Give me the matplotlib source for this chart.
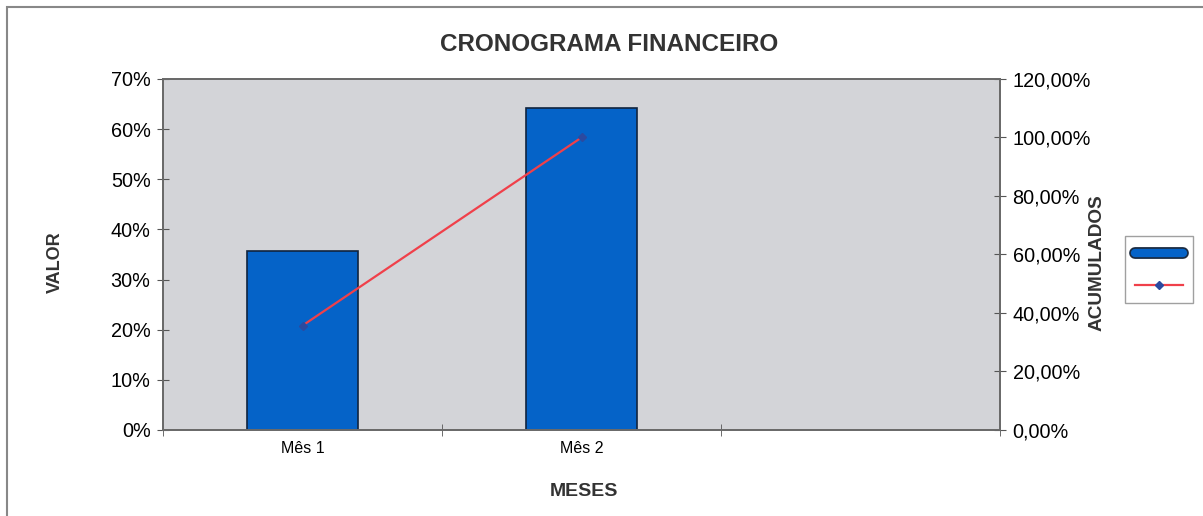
import numpy as np
import matplotlib.pyplot as plt
import matplotlib.patheffects as pe
from matplotlib.patches import Rectangle
from matplotlib.ticker import FuncFormatter

# %%
meses = ['Mês 1', 'Mês 2', '']
valor = [35.7, 64.3]        # %
acumulado = [35.7, 100.0]   # %

plt.rcParams['font.family'] = ['Liberation Sans', 'DejaVu Sans']

fig = plt.figure(figsize=(12.03, 5.16), dpi=100)
ax = fig.add_axes([0.1355, 0.1667, 0.6958, 0.6802])
ax.set_facecolor('#d3d4d8')

x = np.arange(len(valor))
ax.bar(x, valor, width=0.4, color='#0563c8', edgecolor='#10243f', linewidth=1.2, zorder=2)
ax.set_xlim(-0.5, 2.5)
ax.set_ylim(0, 70)
ax.set_yticks(np.arange(0, 71, 10))
ax.yaxis.set_major_formatter(FuncFormatter(lambda v, p: f'{v:.0f}%'))
ax.set_xticks(np.arange(len(meses)))
ax.set_xticklabels(meses, fontsize=11.5)
ax.set_xticks(np.arange(-0.5, 2.6, 1), minor=True)
ax.tick_params(axis='x', which='major', length=0, pad=8)
ax.tick_params(axis='x', which='minor', direction='inout', length=8, color='#555555')
ax.tick_params(axis='y', direction='inout', length=8, color='#555555', labelsize=14.3, pad=5)
for s in ax.spines.values():
    s.set_color('#6a6a6a')
    s.set_linewidth(1.3)

ax2 = ax.twinx()
ax2.plot(x, acumulado, color='#f0404a', linewidth=1.6, marker='D', markersize=4,
         markerfacecolor='#2b4aa0', markeredgecolor='#2b4aa0', zorder=3)
ax2.set_ylim(0, 120)
ax2.set_yticks(np.arange(0, 121, 20))
ax2.yaxis.set_major_formatter(FuncFormatter(lambda v, p: f'{v:.2f}%'.replace('.', ',')))
ax2.tick_params(axis='y', direction='inout', length=8, color='#555555', labelsize=14.3, pad=5)
for s in ax2.spines.values():
    s.set_color('#6a6a6a')
    s.set_linewidth(1.3)

fig.text(0.506, 0.913, 'CRONOGRAMA FINANCEIRO', ha='center', va='center',
         fontsize=17.5, fontweight='bold', color='#333333')
fig.text(0.046, 0.492, 'VALOR', ha='center', va='center', rotation=90,
         fontsize=13, fontweight='bold', color='#333333')
fig.text(0.912, 0.492, 'ACUMULADOS', ha='center', va='center', rotation=90,
         fontsize=13.7, fontweight='bold', color='#333333')
fig.text(0.485, 0.047, 'MESES', ha='center', va='center',
         fontsize=14, fontweight='bold', color='#333333')

# legend without labels
leg_handles = [
    plt.Line2D([], [], color='#0563c8', linewidth=6, solid_capstyle='round',
               path_effects=[pe.Stroke(linewidth=8.5, foreground='#1a2a40'), pe.Normal()]),
    plt.Line2D([], [], color='#f0404a', linewidth=1.6, marker='D', markersize=4,
               markerfacecolor='#2b4aa0', markeredgecolor='#2b4aa0'),
]
leg = fig.legend(leg_handles, ['', ''], loc='center', bbox_to_anchor=(0.9634, 0.477),
                 handlelength=3.4, handletextpad=0, borderpad=0.75, labelspacing=1.3,
                 frameon=True, fancybox=False, edgecolor='#888888')
leg.get_frame().set_linewidth(1.0)

# outer chart border
fig.patches.append(Rectangle((7 / 1203, -0.1), 1.2, 1 - 7 / 516 + 0.1, transform=fig.transFigure,
                             fill=False, edgecolor='#888888', linewidth=1.5))

fig.savefig('out.png', dpi=100)
